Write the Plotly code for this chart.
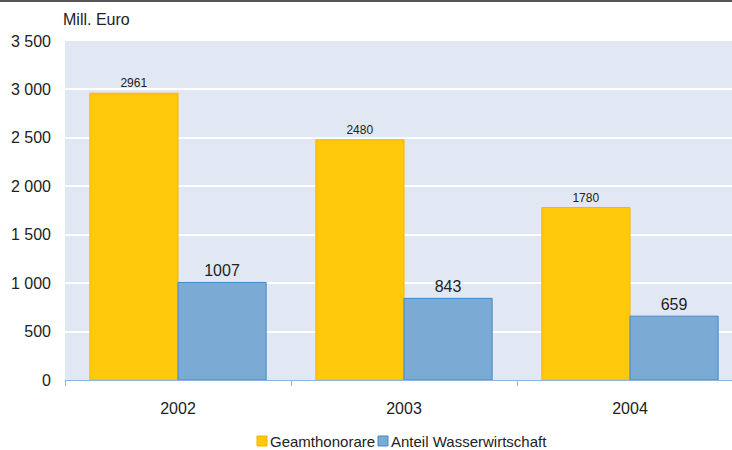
import plotly.graph_objects as go

years = ["2002", "2003", "2004"]
gesamt = [2961, 2480, 1780]
wasser = [1007, 843, 659]
series_names = ["Geamthonorare", "Anteil Wasserwirtschaft"]
y_ticks = [0, 500, 1000, 1500, 2000, 2500, 3000, 3500]
y_labels = ["0", "500", "1 000", "1 500", "2 000", "2 500", "3 000", "3 500"]

W, H = 732, 450
L, R, T, B = 65, 0, 41, 70
pw = W - L - R
ph = H - T - B
cat_w = 226  # pixel width of one category

fill = ["#FFC90B", "#7BAAD4"]
edge = ["#F5B400", "#3F8ACB"]

fig = go.Figure()
fig.add_trace(go.Bar(
    x=years, y=gesamt, name=series_names[0],
    marker=dict(color=fill[0], line=dict(color=edge[0], width=1)),
    text=gesamt, textposition="outside", textfont=dict(size=12, color="#222"),
    cliponaxis=False, showlegend=False,
))
fig.add_trace(go.Bar(
    x=years, y=wasser, name=series_names[1],
    marker=dict(color=fill[1], line=dict(color=edge[1], width=1)),
    text=wasser, textposition="outside", textfont=dict(size=16, color="#222"),
    cliponaxis=False, showlegend=False,
))

# pixel -> paper helpers
def px_x(p):
    return (p - L) / pw

def px_y(p):
    return (H - B - p) / ph

shapes = [dict(type="line", xref="paper", yref="paper",
               x0=px_x(0), x1=1, y0=px_y(1), y1=px_y(1),
               line=dict(color="#555", width=2))]
annotations = [dict(text="Mill. Euro", xref="paper", yref="paper",
                    x=px_x(61), y=px_y(20), xanchor="left", yanchor="middle",
                    showarrow=False, font=dict(size=16, color="#222"))]

# hand-drawn legend (small squares right next to the text, as in the original)
leg_x = [257, 378]
for i, name in enumerate(series_names):
    x0 = leg_x[i]
    shapes.append(dict(type="rect", xref="paper", yref="paper",
                       x0=px_x(x0), x1=px_x(x0 + 10), y0=px_y(446), y1=px_y(436),
                       fillcolor=fill[i], line=dict(color=edge[i], width=1)))
    annotations.append(dict(text=name, xref="paper", yref="paper",
                            x=px_x(x0 + 11), y=px_y(441), xanchor="left",
                            yanchor="middle", showarrow=False,
                            font=dict(size=15, color="#222")))

fig.update_layout(
    width=W, height=H,
    margin=dict(l=L, r=R, t=T, b=B),
    barmode="group", bargap=0.22, bargroupgap=0,
    plot_bgcolor="#E1E8F4", paper_bgcolor="white",
    font=dict(family="Liberation Sans, Arial, sans-serif", color="#222"),
    showlegend=False,
    xaxis=dict(range=[-0.5, pw / cat_w - 0.5], tickson="boundaries",
               ticks="outside", ticklen=5, tickcolor="#8EB4E3",
               showline=True, linecolor="#8EB4E3", linewidth=1,
               tickfont=dict(size=16), showgrid=False, automargin=False,
               ticklabelstandoff=14),
    yaxis=dict(range=[0, 3500], tickvals=y_ticks, ticktext=y_labels,
               gridcolor="white", gridwidth=2, zeroline=False,
               tickfont=dict(size=16), ticklabelstandoff=13, automargin=False),
    annotations=annotations,
    shapes=shapes,
)

fig.write_html("out.html", config={"displayModeBar": False},
               post_script="document.body.style.margin = '0';")
